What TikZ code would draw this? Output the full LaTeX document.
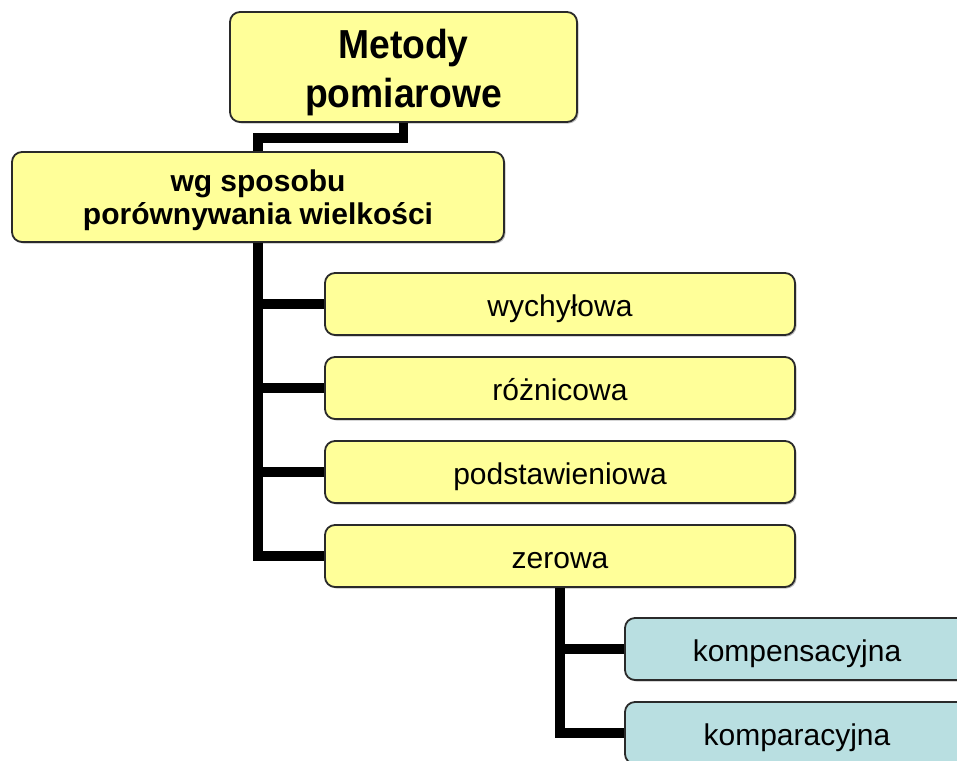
\documentclass[tikz,border=0pt]{standalone}
\usepackage{fontspec}
\setmainfont{Liberation Sans}
\newfontfamily\titlefont[FakeStretch=0.92]{Liberation Sans}
\usetikzlibrary{shadows}
\definecolor{boxyellow}{HTML}{FFFF99}
\definecolor{boxcyan}{HTML}{B9DFE1}
\definecolor{boxline}{HTML}{2A2A2A}
\begin{document}
\begin{tikzpicture}[x=1pt,y=-1pt,
  box/.style={draw=boxline, line width=1.8pt, rounded corners=10pt, inner sep=0pt, align=center, text=black,
    drop shadow={shadow xshift=1.5pt, shadow yshift=-1.5pt, fill=black, opacity=0.25}},
  ybox/.style={box, fill=boxyellow},
  cbox/.style={box, fill=boxcyan},
  small/.style={font=\fontsize{30}{36}\selectfont, text height=25pt, text depth=0pt},
  link/.style={line width=9.5pt, black}]
\useasboundingbox (0,0) rectangle (957,760);
\clip (0,0) rectangle (957,760);
\node[ybox, minimum width=347, minimum height=110, font=\titlefont\fontsize{40.5}{48.3}\selectfont\bfseries,
  text height=80pt, text depth=0pt] (top) at (403.5,67) {Metody\\pomiarowe};
\node[ybox, minimum width=492, minimum height=90, font=\fontsize{30}{33.4}\selectfont\bfseries,
  text height=55pt, text depth=0pt] (mid) at (258,197) {wg sposobu\\porównywania wielkości};
\node[ybox, small, minimum width=470, minimum height=62] (w) at (560,304) {wychyłowa};
\node[ybox, small, minimum width=470, minimum height=62] (r) at (560,388) {różnicowa};
\node[ybox, small, minimum width=470, minimum height=62] (p) at (560,472) {podstawieniowa};
\node[ybox, small, minimum width=470, minimum height=62] (z) at (560,556) {zerowa};
\node[cbox, small, minimum width=344, minimum height=62] (k1) at (797,649) {kompensacyjna};
\node[cbox, small, minimum width=344, minimum height=62] (k2) at (797,733) {komparacyjna};
\draw[link] (top.south) -- ++(0,15) -| (mid.north);
\draw[link] (mid.south) |- (z.west);
\draw[link] (w.west) -- (w.west -| mid.south);
\draw[link] (r.west) -- (r.west -| mid.south);
\draw[link] (p.west) -- (p.west -| mid.south);
\draw[link] (z.south) |- (k2.west);
\draw[link] (k1.west) -- (k1.west -| z.south);
\end{tikzpicture}
\end{document}
